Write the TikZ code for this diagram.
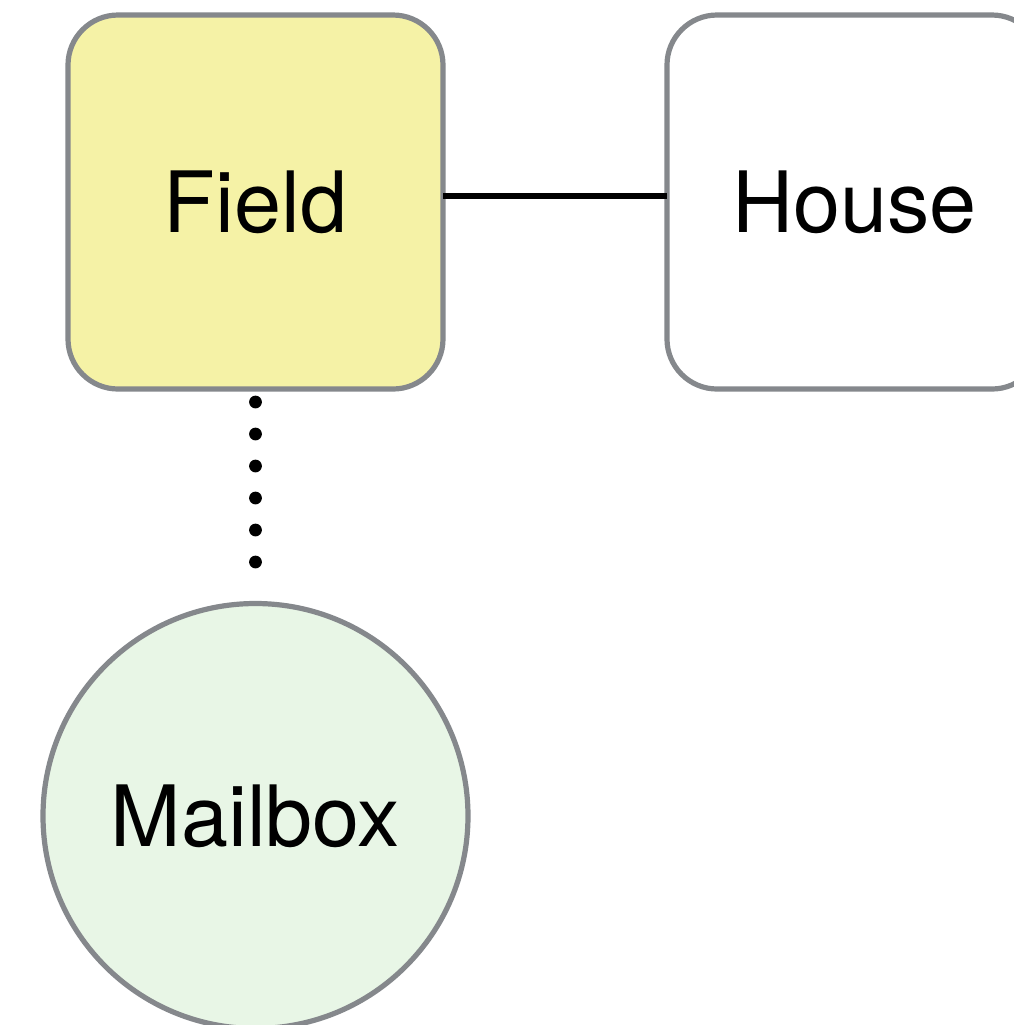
\documentclass[tikz,border=0pt]{standalone}
\usepackage{fontspec}
\setmainfont{TeX Gyre Heros}
\definecolor{edgegray}{RGB}{133,136,140}
\definecolor{fieldfill}{RGB}{245,242,166}
\definecolor{mailfill}{RGB}{232,246,230}
\tikzset{
  box/.style={draw=edgegray, line width=2.6pt, rounded corners=25pt,
    minimum width=187.5pt, minimum height=187pt, inner sep=0pt, outer sep=0pt,
    font=\fontsize{42.3pt}{48pt}\selectfont},
  roundnode/.style={circle, draw=edgegray, line width=2.6pt,
    minimum size=212.5pt, inner sep=0pt, outer sep=0pt,
    font=\fontsize{42.3pt}{48pt}\selectfont},
  solidlink/.style={line width=2.6pt, black},
  dotlink/.style={line width=6.4pt, black, line cap=round,
    dash pattern=on 0pt off 16pt}
}
\begin{document}
\begin{tikzpicture}[x=0.5pt, y=-0.5pt]
  \clip (0,0) rectangle (1014,1025);
  \fill[white] (0,0) rectangle (1014,1025);
  \node[box, fill=fieldfill] (field) at (255.5,202) {Field};
  \node[box, fill=white] (house) at (854.5,202) {House};
  \node[roundnode, fill=mailfill] (mailbox) at (255.5,816) {Mailbox};
  % straight link, a little above the box centres
  \draw[solidlink] ([yshift=3pt]field.east) -- ([yshift=3pt]house.west);
  % dotted link: six dots, 16pt apart
  \draw[dotlink, shorten <=6.5pt, shorten >=20pt] (field.south) -- (mailbox.north);
\end{tikzpicture}
\end{document}
